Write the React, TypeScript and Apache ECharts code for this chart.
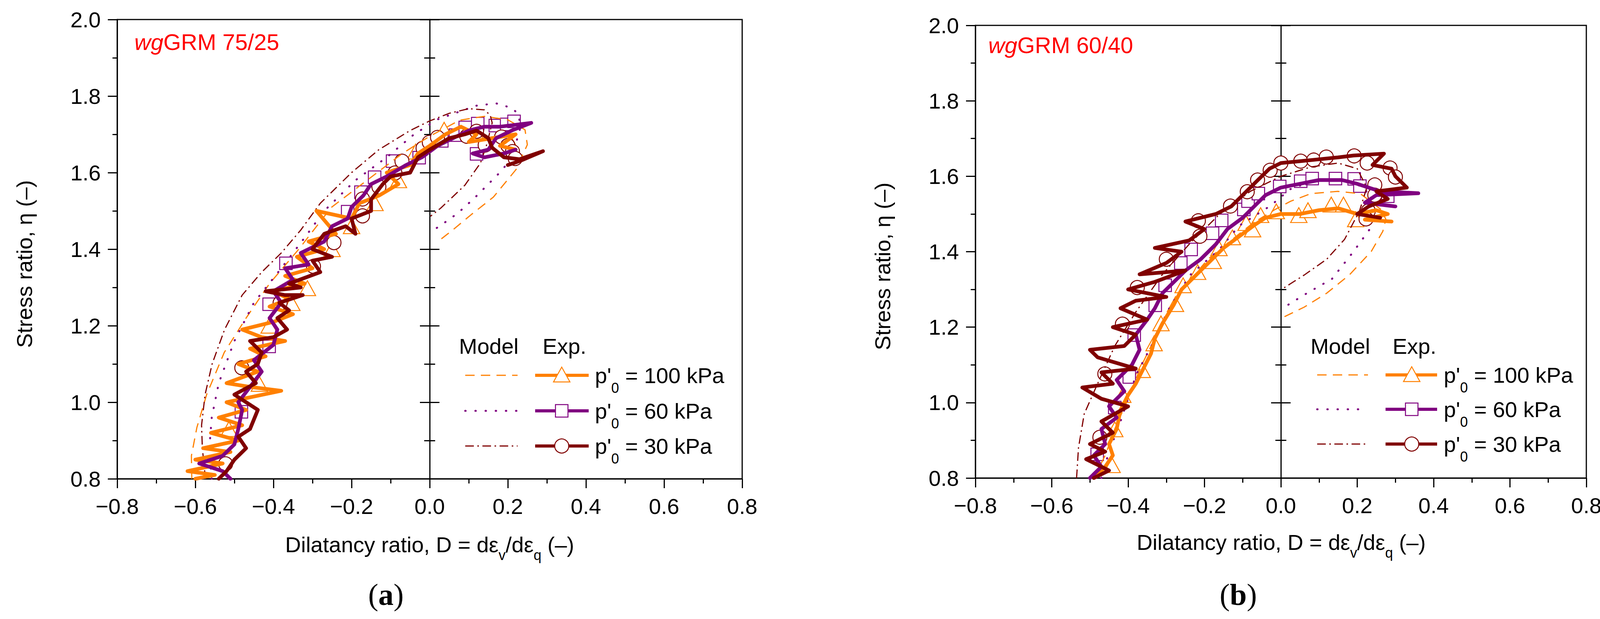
import React, { useEffect, useRef } from 'react';
import * as echarts from 'echarts';

const ORANGE = '#FF8000';
const PURPLE = '#800080';
const WINE = '#800000';
const FONT = "'Liberation Sans', Arial, Helvetica, sans-serif";
const SERIF = "'Liberation Serif', 'Times New Roman', serif";

// axis ranges (both panels)
const xRange = [-0.8, 0.8];
const yRange = [0.8, 2.0];
const tickStep = 0.2;

const panelTitles = ['75/25', '60/40'];
const panelLetters = ['a', 'b'];
const pressures = ['100', '60', '30'];

// ---- (a) wgGRM 75/25 ----
const modelA100 = [[-0.609, 0.8], [-0.61, 0.86], [-0.596, 0.934], [-0.571, 1.02], [-0.526, 1.13], [-0.47, 1.22], [-0.41, 1.31], [-0.335, 1.4], [-0.252, 1.509], [-0.15, 1.588], [-0.07, 1.65], [0.0, 1.695], [0.077, 1.737], [0.14, 1.747], [0.2, 1.738], [0.244, 1.712], [0.25, 1.673], [0.221, 1.608], [0.163, 1.536], [0.106, 1.49], [0.06, 1.451], [0.02, 1.419]];
const modelA60 = [[-0.558, 0.8], [-0.564, 0.88], [-0.558, 0.96], [-0.54, 1.05], [-0.5, 1.16], [-0.45, 1.26], [-0.38, 1.35], [-0.32, 1.43], [-0.27, 1.5], [-0.19, 1.58], [-0.11, 1.64], [-0.04, 1.7], [0.02, 1.739], [0.05, 1.75], [0.12, 1.775], [0.17, 1.781], [0.21, 1.769], [0.228, 1.752], [0.232, 1.717], [0.212, 1.645], [0.187, 1.608], [0.152, 1.572], [0.114, 1.533], [0.072, 1.494], [0.028, 1.462], [0.005, 1.447]];
const modelA30 = [[-0.574, 0.8], [-0.582, 0.88], [-0.584, 0.94], [-0.575, 1.02], [-0.557, 1.1], [-0.525, 1.19], [-0.48, 1.28], [-0.43, 1.34], [-0.38, 1.39], [-0.33, 1.45], [-0.28, 1.52], [-0.2, 1.6], [-0.13, 1.66], [-0.05, 1.71], [0.0, 1.735], [0.05, 1.755], [0.1, 1.767], [0.14, 1.764], [0.155, 1.75], [0.16, 1.73], [0.145, 1.67], [0.13, 1.625], [0.09, 1.567], [0.053, 1.531], [0.028, 1.507], [0.002, 1.486]];

const expA100 = [[-0.6, 0.8], [-0.55, 0.81], [-0.62, 0.82], [-0.53, 0.84], [-0.6, 0.85], [-0.51, 0.87], [-0.58, 0.88], [-0.49, 0.9], [-0.56, 0.92], [-0.48, 0.94], [-0.54, 0.96], [-0.47, 0.98], [-0.52, 1.0], [-0.38, 1.03], [-0.46, 1.04], [-0.52, 1.05], [-0.44, 1.08], [-0.49, 1.1], [-0.42, 1.12], [-0.46, 1.14], [-0.37, 1.16], [-0.43, 1.17], [-0.48, 1.19], [-0.4, 1.21], [-0.35, 1.23], [-0.41, 1.25], [-0.36, 1.27], [-0.4, 1.29], [-0.32, 1.31], [-0.37, 1.33], [-0.3, 1.35], [-0.34, 1.38], [-0.27, 1.4], [-0.31, 1.42], [-0.24, 1.44], [-0.29, 1.5], [-0.2, 1.48], [-0.18, 1.52], [-0.13, 1.54], [-0.08, 1.57], [-0.11, 1.6], [-0.05, 1.62], [-0.03, 1.65], [0.0, 1.67], [0.04, 1.7], [0.08, 1.72], [0.12, 1.7], [0.1, 1.68], [0.16, 1.69], [0.22, 1.7], [0.18, 1.67], [0.22, 1.66]];
const expA60 = [[-0.51, 0.8], [-0.53, 0.82], [-0.59, 0.84], [-0.53, 0.86], [-0.5, 0.89], [-0.49, 0.93], [-0.48, 0.98], [-0.49, 1.0], [-0.46, 1.04], [-0.43, 1.08], [-0.45, 1.11], [-0.4, 1.15], [-0.39, 1.19], [-0.41, 1.22], [-0.38, 1.26], [-0.4, 1.29], [-0.35, 1.32], [-0.37, 1.35], [-0.31, 1.36], [-0.33, 1.39], [-0.27, 1.42], [-0.25, 1.46], [-0.21, 1.48], [-0.2, 1.51], [-0.17, 1.54], [-0.15, 1.57], [-0.11, 1.59], [-0.06, 1.62], [-0.02, 1.64], [0.02, 1.67], [0.06, 1.69], [0.1, 1.71], [0.14, 1.72], [0.18, 1.72], [0.26, 1.73], [0.21, 1.71], [0.17, 1.69], [0.15, 1.66], [0.11, 1.65], [0.14, 1.64], [0.19, 1.65], [0.22, 1.66]];
const expA30 = [[-0.54, 0.8], [-0.52, 0.82], [-0.5, 0.85], [-0.47, 0.88], [-0.49, 0.91], [-0.46, 0.93], [-0.44, 0.98], [-0.5, 1.02], [-0.445, 1.05], [-0.47, 1.08], [-0.44, 1.1], [-0.43, 1.13], [-0.46, 1.16], [-0.4, 1.17], [-0.365, 1.19], [-0.39, 1.22], [-0.36, 1.24], [-0.385, 1.26], [-0.325, 1.28], [-0.37, 1.28], [-0.42, 1.29], [-0.33, 1.3], [-0.36, 1.31], [-0.28, 1.34], [-0.3, 1.37], [-0.25, 1.38], [-0.3, 1.4], [-0.27, 1.44], [-0.215, 1.46], [-0.19, 1.44], [-0.2, 1.48], [-0.15, 1.5], [-0.15, 1.53], [-0.12, 1.57], [-0.1, 1.59], [-0.05, 1.6], [-0.03, 1.64], [0.0, 1.66], [0.05, 1.69], [0.09, 1.7], [0.12, 1.71], [0.15, 1.69], [0.16, 1.665], [0.19, 1.64], [0.23, 1.635], [0.29, 1.656], [0.23, 1.63], [0.2, 1.62]];

const markA100 = [[-0.514, 0.93], [-0.436, 1.048], [-0.411, 1.2], [-0.353, 1.259], [-0.313, 1.298], [-0.25, 1.4], [-0.2, 1.46], [-0.14, 1.52], [-0.08, 1.58], [-0.036, 1.655], [0.037, 1.712], [0.12, 1.7], [0.2, 1.69]];
const markA60 = [[-0.482, 0.975], [-0.411, 1.146], [-0.411, 1.256], [-0.368, 1.363], [-0.21, 1.498], [-0.176, 1.549], [-0.141, 1.588], [-0.095, 1.63], [-0.027, 1.639], [0.031, 1.683], [0.066, 1.698], [0.091, 1.718], [0.123, 1.728], [0.168, 1.723], [0.197, 1.726], [0.216, 1.734], [0.12, 1.649]];
const markA30 = [[-0.5225, 0.839], [-0.481, 1.09], [-0.383, 1.259], [-0.2975, 1.355], [-0.245, 1.417], [-0.172, 1.487], [-0.172, 1.531], [-0.13, 1.563], [-0.089, 1.599], [-0.071, 1.63], [-0.017, 1.664], [-0.001, 1.679], [0.02, 1.692], [0.095, 1.695], [0.12, 1.708], [0.142, 1.672], [0.184, 1.693], [0.2, 1.671], [0.212, 1.655], [0.219, 1.637]];

// ---- (b) wgGRM 60/40 ----
const modelB100 = [[-0.49, 0.8], [-0.46, 0.86], [-0.435, 0.93], [-0.4, 1.01], [-0.367, 1.094], [-0.326, 1.179], [-0.285, 1.258], [-0.244, 1.317], [-0.191, 1.38], [-0.133, 1.428], [-0.073, 1.476], [-0.015, 1.512], [0.026, 1.534], [0.079, 1.554], [0.149, 1.56], [0.208, 1.554], [0.262, 1.512], [0.275, 1.486], [0.267, 1.454], [0.237, 1.401], [0.179, 1.338], [0.12, 1.29], [0.061, 1.253], [0.008, 1.227]];
const modelB60 = [[-0.47, 0.8], [-0.45, 0.87], [-0.42, 0.95], [-0.379, 1.074], [-0.332, 1.164], [-0.297, 1.242], [-0.238, 1.338], [-0.161, 1.406], [-0.109, 1.469], [-0.027, 1.522], [0.025, 1.566], [0.09, 1.59], [0.16, 1.592], [0.22, 1.57], [0.24, 1.52], [0.233, 1.46], [0.19, 1.4], [0.134, 1.328], [0.06, 1.285], [0.017, 1.258]];
const modelB30 = [[-0.535, 0.8], [-0.53, 0.88], [-0.515, 0.97], [-0.48, 1.05], [-0.435, 1.15], [-0.38, 1.24], [-0.31, 1.34], [-0.24, 1.42], [-0.16, 1.5], [-0.08, 1.56], [0.0, 1.6], [0.08, 1.625], [0.15, 1.635], [0.2, 1.62], [0.225, 1.57], [0.206, 1.508], [0.167, 1.433], [0.12, 1.38], [0.061, 1.338], [0.008, 1.304]];

const expB100 = [[-0.49, 0.8], [-0.46, 0.83], [-0.44, 0.86], [-0.45, 0.89], [-0.43, 0.93], [-0.42, 0.98], [-0.4, 1.02], [-0.38, 1.05], [-0.36, 1.09], [-0.34, 1.13], [-0.33, 1.17], [-0.31, 1.21], [-0.28, 1.26], [-0.26, 1.3], [-0.22, 1.34], [-0.18, 1.38], [-0.15, 1.41], [-0.11, 1.44], [-0.07, 1.47], [-0.04, 1.49], [0.0, 1.5], [0.05, 1.5], [0.1, 1.51], [0.15, 1.515], [0.2, 1.5], [0.25, 1.51], [0.28, 1.5], [0.22, 1.485], [0.29, 1.48]];
const expB60 = [[-0.5, 0.8], [-0.47, 0.83], [-0.49, 0.86], [-0.46, 0.89], [-0.47, 0.93], [-0.43, 0.96], [-0.45, 0.99], [-0.41, 1.03], [-0.43, 1.06], [-0.39, 1.1], [-0.37, 1.14], [-0.38, 1.18], [-0.35, 1.22], [-0.33, 1.25], [-0.31, 1.29], [-0.28, 1.32], [-0.25, 1.35], [-0.21, 1.38], [-0.17, 1.42], [-0.14, 1.46], [-0.1, 1.49], [-0.07, 1.52], [-0.04, 1.55], [0.0, 1.57], [0.05, 1.58], [0.1, 1.59], [0.16, 1.59], [0.2, 1.58], [0.26, 1.56], [0.36, 1.555], [0.25, 1.55], [0.22, 1.53], [0.3, 1.52]];
const expB30 = [[-0.49, 0.8], [-0.45, 0.82], [-0.51, 0.85], [-0.46, 0.87], [-0.5, 0.89], [-0.44, 0.92], [-0.47, 0.95], [-0.4, 0.99], [-0.47, 1.01], [-0.52, 1.04], [-0.44, 1.05], [-0.47, 1.08], [-0.38, 1.09], [-0.48, 1.12], [-0.5, 1.14], [-0.41, 1.15], [-0.38, 1.18], [-0.44, 1.2], [-0.35, 1.22], [-0.42, 1.25], [-0.38, 1.27], [-0.3, 1.28], [-0.4, 1.3], [-0.33, 1.32], [-0.25, 1.35], [-0.37, 1.34], [-0.3, 1.37], [-0.26, 1.4], [-0.33, 1.41], [-0.24, 1.43], [-0.2, 1.46], [-0.25, 1.48], [-0.17, 1.5], [-0.13, 1.52], [-0.09, 1.56], [-0.06, 1.59], [-0.03, 1.62], [0.0, 1.635], [0.05, 1.64], [0.1, 1.645], [0.15, 1.65], [0.19, 1.655], [0.27, 1.66], [0.24, 1.63], [0.29, 1.62], [0.3, 1.6], [0.33, 1.57], [0.25, 1.56], [0.28, 1.54], [0.23, 1.52], [0.2, 1.5], [0.26, 1.49]];

const markB100 = [[-0.442, 0.834], [-0.435, 0.929], [-0.414, 1.02], [-0.363, 1.086], [-0.332, 1.157], [-0.314, 1.21], [-0.276, 1.261], [-0.256, 1.311], [-0.218, 1.346], [-0.177, 1.375], [-0.162, 1.409], [-0.127, 1.438], [-0.091, 1.476], [-0.074, 1.459], [-0.053, 1.497], [-0.012, 1.507], [0.047, 1.497], [0.071, 1.51], [0.132, 1.525], [0.164, 1.525], [0.196, 1.486]];
const markB60 = [[-0.481, 0.863], [-0.435, 0.987], [-0.397, 1.068], [-0.384, 1.179], [-0.329, 1.258], [-0.303, 1.311], [-0.262, 1.37], [-0.235, 1.406], [-0.179, 1.449], [-0.155, 1.483], [-0.097, 1.512], [-0.086, 1.534], [-0.059, 1.554], [-0.003, 1.573], [0.052, 1.587], [0.082, 1.594], [0.143, 1.594], [0.192, 1.593], [0.207, 1.574], [0.28, 1.547]];
const markB30 = [[-0.474, 0.908], [-0.461, 1.076], [-0.415, 1.208], [-0.376, 1.305], [-0.3, 1.38], [-0.212, 1.441], [-0.216, 1.482], [-0.132, 1.521], [-0.088, 1.559], [-0.061, 1.59], [-0.028, 1.616], [0.0, 1.635], [0.052, 1.64], [0.086, 1.643], [0.119, 1.651], [0.192, 1.654], [0.226, 1.635], [0.286, 1.622], [0.3, 1.598], [0.246, 1.577], [0.246, 1.55], [0.229, 1.508], [0.223, 1.487]];

const panels = [
  { model: [modelA100, modelA60, modelA30], exp: [expA100, expA60, expA30], marks: [markA100, markA60, markA30] },
  { model: [modelB100, modelB60, modelB30], exp: [expB100, expB60, expB30], marks: [markB100, markB60, markB30] },
];

// layout (pixels)
const grids = [
  { left: 300, top: 50, width: 1600, height: 1176 },
  { left: 2497, top: 65, width: 1564, height: 1159 },
];
const layouts = [
  { yTitle: [62, 676], xTitle: [1100, 1394], letter: [988, 1522], tag: [344, 107],
    head: 886, modelText: 1175, expText: 1389, m1: 1191, m2: 1325, e1: 1370, e2: 1507, mk: 1438, lab: 1523, rows: [961, 1052, 1142] },
  { yTitle: [2259, 682], xTitle: [3280, 1388], letter: [3170, 1522], tag: [2530, 115],
    head: 886, modelText: 3355, expText: 3565, m1: 3372, m2: 3502, e1: 3547, e2: 3679, mk: 3614, lab: 3696, rows: [960, 1048, 1137] },
];

const colors = [ORANGE, PURPLE, WINE];
const dashes = [[24, 16], [1, 25], [22, 9, 4, 9]];
const caps = ['butt', 'round', 'butt'];
const widths = [3, 5, 3];
const symbols = ['triangle', 'rect', 'circle'];
const symbolSizes: any[] = [[42, 38], 32, 36];

const black = { color: '#000', width: 3 };
const fmtX = (v: number) => (v < -1e-9 ? '\u2212' + (-v).toFixed(1) : Math.abs(v).toFixed(1));

const rich = (o: any) => ({ fontFamily: FONT, fontSize: 56, fill: '#000', ...o });

const legendGraphics = (L: any) => {
  const els: any[] = [
    { type: 'text', x: L.modelText, y: L.head, style: { text: 'Model', font: `56px ${FONT}`, fill: '#000', verticalAlign: 'middle' } },
    { type: 'text', x: L.expText, y: L.head, style: { text: 'Exp.', font: `56px ${FONT}`, fill: '#000', verticalAlign: 'middle' } },
  ];
  L.rows.forEach((y: number, i: number) => {
    const c = colors[i];
    els.push({ type: 'line', shape: { x1: L.m1, y1: y, x2: L.m2, y2: y }, style: { stroke: c, lineWidth: widths[i], lineDash: dashes[i], lineCap: caps[i] } });
    els.push({ type: 'line', shape: { x1: L.e1, y1: y, x2: L.e2, y2: y }, style: { stroke: c, lineWidth: 8 } });
    const mstyle = { fill: '#fff', stroke: c, lineWidth: 2.5 };
    if (i === 0) els.push({ type: 'polygon', shape: { points: [[L.mk - 21, y + 17], [L.mk + 21, y + 17], [L.mk, y - 21]] }, style: mstyle });
    if (i === 1) els.push({ type: 'rect', shape: { x: L.mk - 16, y: y - 16, width: 32, height: 32 }, style: mstyle });
    if (i === 2) els.push({ type: 'circle', shape: { cx: L.mk, cy: y, r: 18 }, style: mstyle });
    els.push({
      type: 'text', x: L.lab, y,
      style: {
        text: `{a|p'}{s|0}{a| = ${pressures[i]} kPa}`, verticalAlign: 'middle',
        rich: { a: rich({}), s: rich({ fontSize: 36, padding: [64, 0, 0, 0] }) },
      },
    });
  });
  return els;
};

const App: React.FC = () => {
  const chartRef = useRef<HTMLDivElement | null>(null);

  useEffect(() => {
    if (!chartRef.current) return;
    const chart = echarts.init(chartRef.current, undefined, { renderer: 'svg' });

    const xAxis: any[] = [];
    const yAxis: any[] = [];
    const series: any[] = [];
    const graphic: any[] = [];

    panels.forEach((p, g) => {
      xAxis.push({
        type: 'value', gridIndex: g, min: xRange[0], max: xRange[1], interval: tickStep,
        axisLine: { onZero: false, lineStyle: black },
        axisTick: { length: 24, lineStyle: black },
        minorTick: { show: true, splitNumber: 2, length: 12, lineStyle: black },
        axisLabel: { margin: 42, fontSize: 56, fontFamily: FONT, color: '#000', formatter: fmtX },
        splitLine: { show: false },
        minorSplitLine: { show: false },
      });
      const yBase = {
        type: 'value', gridIndex: g, min: yRange[0], max: yRange[1], interval: tickStep, position: 'left',
        splitLine: { show: false }, minorSplitLine: { show: false },
      };
      yAxis.push({
        ...yBase,
        axisLine: { show: true, onZero: false, lineStyle: black },
        axisTick: { length: 24, lineStyle: black },
        minorTick: { show: true, splitNumber: 2, length: 12, lineStyle: black },
        axisLabel: { margin: 42, fontSize: 56, fontFamily: FONT, color: '#000', formatter: (v: number) => v.toFixed(1) },
      });
      // zero line with crossing ticks: one axis ticking outward, one inward
      [false, true].forEach((inside) => {
        yAxis.push({
          ...yBase,
          axisLine: { show: true, onZero: true, onZeroAxisIndex: g, lineStyle: black },
          axisTick: { inside, length: 25, lineStyle: black },
          minorTick: { show: true, splitNumber: 2, length: 14, lineStyle: black },
          axisLabel: { show: false },
        });
      });
      const yi = g * 3;

      p.model.forEach((d, i) => {
        series.push({
          type: 'line', xAxisIndex: g, yAxisIndex: yi, data: d, symbol: 'none', silent: true,
          lineStyle: { color: colors[i], width: widths[i], type: dashes[i], cap: caps[i] },
        });
      });
      p.exp.forEach((d, i) => {
        series.push({
          type: 'line', xAxisIndex: g, yAxisIndex: yi, data: d, symbol: 'none', silent: true,
          lineStyle: { color: colors[i], width: 9.5, join: 'round', cap: 'round' },
        });
        series.push({
          type: 'scatter', xAxisIndex: g, yAxisIndex: yi, data: p.marks[i], silent: true,
          symbol: symbols[i], symbolSize: symbolSizes[i],
          itemStyle: { color: '#fff', borderColor: colors[i], borderWidth: 2.5, opacity: 1 },
        });
      });

      const L = layouts[g];
      graphic.push(
        {
          type: 'text', x: L.yTitle[0], y: L.yTitle[1], rotation: Math.PI / 2,
          style: { text: 'Stress ratio, \u03b7 (\u2013)', font: `56px ${FONT}`, fill: '#000', align: 'center', verticalAlign: 'middle' },
        },
        {
          type: 'text', x: L.xTitle[0], y: L.xTitle[1],
          style: {
            text: '{a|Dilatancy ratio, D = d\u03b5}{s|v}{a|/d\u03b5}{s|q}{a| (\u2013)}',
            align: 'center', verticalAlign: 'middle',
            rich: { a: rich({}), s: rich({ fontSize: 36, padding: [54, 0, 0, 0] }) },
          },
        },
        {
          type: 'text', x: L.letter[0], y: L.letter[1],
          style: {
            text: `{r|(}{b|${panelLetters[g]}}{r|)}`, align: 'center', verticalAlign: 'middle',
            rich: {
              r: { fontFamily: SERIF, fontSize: 78, fill: '#000' },
              b: { fontFamily: SERIF, fontSize: 78, fontWeight: 'bold', fill: '#000' },
            },
          },
        },
        {
          type: 'text', x: L.tag[0], y: L.tag[1],
          style: {
            text: `{i|wg}{n|GRM ${panelTitles[g]}}`, verticalAlign: 'middle',
            rich: {
              i: rich({ fontSize: 58, fontStyle: 'italic', fill: '#FF0000' }),
              n: rich({ fontSize: 58, fill: '#FF0000' }),
            },
          },
        },
        ...legendGraphics(L),
      );
    });

    const option: any = {
      animation: false,
      backgroundColor: '#fff',
      grid: grids.map((r) => ({ ...r, show: true, borderColor: '#000', borderWidth: 3, backgroundColor: 'transparent', containLabel: false, outerBoundsMode: 'none' })),
      xAxis,
      yAxis,
      series,
      graphic,
    };
    chart.setOption(option);

    return () => {
      chart.dispose();
    };
  }, []);

  return <div ref={chartRef} style={{ position: 'absolute', left: 0, top: 0, width: 4126, height: 1585, background: '#fff' }} />;
};

export default App;
